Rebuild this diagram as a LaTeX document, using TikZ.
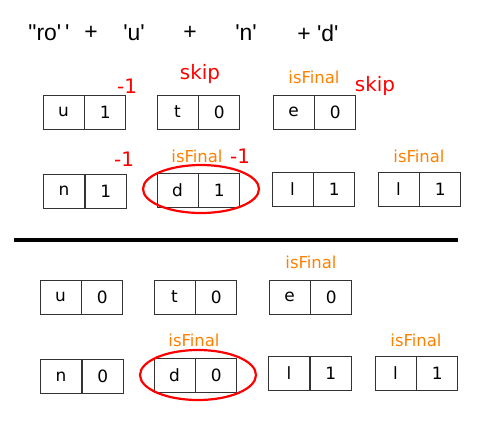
\documentclass[tikz,border=0pt]{standalone}
\usepackage{fontspec}
\setmainfont{DejaVu Sans}
\newfontfamily\topfont{Liberation Sans}
\usetikzlibrary{positioning}
\begin{document}
\begin{tikzpicture}[x=1bp,y=-1bp,
  cell/.style={draw=black!80,line width=0.8bp,minimum width=41bp,minimum height=34bp,inner sep=0pt,font=\fontsize{17}{19}\selectfont},
  skiplabel/.style={text=red,font=\fontsize{20}{22}\selectfont},
  finallabel/.style={text=orange,font=\fontsize{16.5}{18}\selectfont},
  topword/.style={font=\topfont\fontsize{23}{25}\selectfont}]
\useasboundingbox (0,0) rectangle (503,424);
% the word
\node[topword] (ro) at (49,33) {"ro'\,'}; \node[topword] (p1) at (91,33) {+};
\node[topword] (cu) at (134,33) {'u'}; \node[topword] (p2) at (190,33) {+};
\node[topword] (cn) at (246,33) {'n'}; \node[topword] (cd) at (318,33) {+ 'd'};
% before
\node[cell] (ua) at (63.5,112) {u}; \node[cell,right=0pt of ua] (ub) {1};
\node[cell] (ta) at (177.5,112) {t}; \node[cell,right=0pt of ta] (tb) {0};
\node[cell] (ea) at (293.5,112) {e}; \node[cell,right=0pt of ea] (eb) {0};
\node[cell] (na) at (64,191) {n}; \node[cell,right=0pt of na] (nb) {1};
\node[cell] (da) at (177.5,190) {d}; \node[cell,right=0pt of da] (db) {1};
\node[cell] (la) at (292.5,189) {l}; \node[cell,right=0pt of la] (lb) {1};
\node[cell] (ma) at (398.5,189) {l}; \node[cell,right=0pt of ma] (mb) {1};
\node[skiplabel] (m1) at (127,86) {-1}; \node[skiplabel] (s1) at (200,74) {skip};
\node[finallabel] (f1) at (314,77) {isFinal}; \node[skiplabel] (s2) at (375,86) {skip};
\node[skiplabel] (m2) at (124,159) {-1}; \node[finallabel] (f2) at (197,156) {isFinal};
\node[skiplabel] (m3) at (240,156) {-1}; \node[finallabel] (f3) at (419,156) {isFinal};
\draw[red,line width=2.2bp] (201,189) ellipse [x radius=58,y radius=24];
% divider
\draw[line width=4bp] (14,240)--(458,240);
% after
\node[cell] (ua2) at (60.5,297) {u}; \node[cell,right=0pt of ua2] (ub2) {0};
\node[cell] (ta2) at (174.5,297) {t}; \node[cell,right=0pt of ta2] (tb2) {0};
\node[cell] (ea2) at (289.5,297) {e}; \node[cell,right=0pt of ea2] (eb2) {0};
\node[cell] (na2) at (61,376.5) {n}; \node[cell,right=0pt of na2] (nb2) {0};
\node[cell] (da2) at (174.5,375) {d}; \node[cell,right=0pt of da2] (db2) {0};
\node[cell] (la2) at (289,373.5) {l}; \node[cell,right=0pt of la2] (lb2) {1};
\node[cell] (ma2) at (395.5,373.5) {l}; \node[cell,right=0pt of ma2] (mb2) {1};
\node[finallabel] (f4) at (311,262) {isFinal}; \node[finallabel] (f5) at (194,340) {isFinal};
\node[finallabel] (f6) at (416,340) {isFinal};
\draw[red,line width=2.2bp] (198,375) ellipse [x radius=58,y radius=25];
\end{tikzpicture}
\end{document}
